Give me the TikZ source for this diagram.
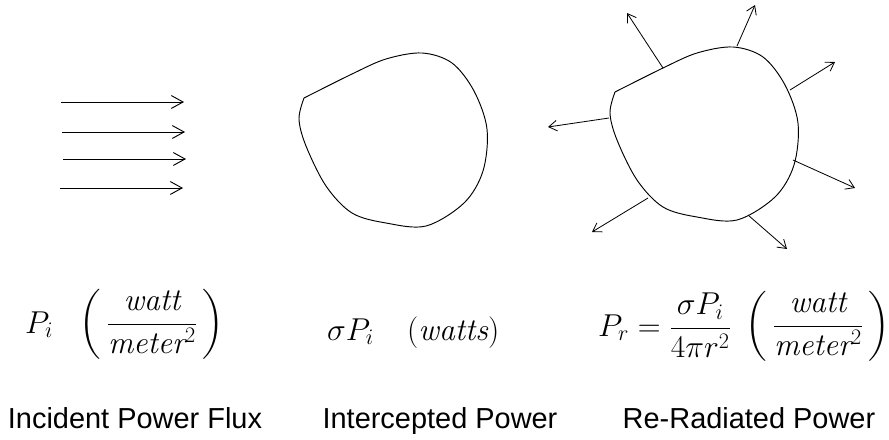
\RequirePackage{fix-cm}
\documentclass[tikz,border=0pt]{standalone}
\usepackage{amsmath}
\usepackage{fontspec}
\setsansfont{Liberation Sans}
\usepackage{tikz}
\usetikzlibrary{arrows.meta}

\tikzset{
    blob/.pic={
        \draw[line width=0.8pt] plot[smooth, tension=0.55] coordinates {
            (-90,-43) (-42,-67) (-8,-82) (28,-88) (58,-78) (80,-50) (93,-12)
            (89,30) (70,62) (32,85) (-8,82) (-42,72) (-68,45) (-88,5)
            (-95,-22) (-90,-43)};
    },
    incident/.style={line width=0.8pt, -{Straight Barb[length=10pt,width=11pt]}},
    radiated/.style={line width=0.7pt, -{Straight Barb[length=7pt,width=9pt]}},
    formula/.style={anchor=base, inner sep=0pt, font=\fontsize{27}{33}\selectfont},
    caption/.style={anchor=base, inner sep=0pt, font=\sffamily\fontsize{24.7}{30}\selectfont}
}

\begin{document}
\begin{tikzpicture}[x=0.03cm, y=-0.03cm]
    \useasboundingbox (0,0) rectangle (889,439);

    % incident power flux
    \foreach \xa/\ya in {61/102, 62/132, 63/159, 60/188}
        \draw[incident] (\xa,\ya) -- ++(123,0);

    % intercepting body
    \pic at (394,141) {blob};

    % re-radiating body
    \pic at (705,135) {blob};
    \foreach \xa/\ya/\xb/\yb in {663/68/627/13, 737/46/755/5, 790/90/835/62,
        793/160/855/188, 748/215/787/249, 648/198/592/232, 609/118/548/127}
        \draw[radiated] (\xa,\ya) -- (\xb,\yb);

    % formulas
    \node[formula, anchor=base west] (pinc) at (25,333) {$P_i$};
    \node[formula] (uinc) at (152,332) {$\left(\,\dfrac{\mathit{watt}}{\mathit{meter}^2}\,\right)$};
    \node[formula, anchor=base west] (pint) at (327,340) {$\sigma P_i$};
    \node[formula, anchor=base west] (uint) at (407,340) {$(\mathit{watts})$};
    \node[formula, anchor=base west] (prad) at (598,336) {$P_r = \dfrac{\sigma P_i}{4\pi r^2}$};
    \node[formula] (urad) at (818,334) {$\left(\,\dfrac{\mathit{watt}}{\mathit{meter}^2}\,\right)$};

    % captions
    \node[caption] (cinc) at (135,428) {Incident Power Flux};
    \node[caption] (cint) at (440,428) {Intercepted Power};
    \node[caption] (crad) at (749,428) {Re-Radiated Power};
\end{tikzpicture}
\end{document}
